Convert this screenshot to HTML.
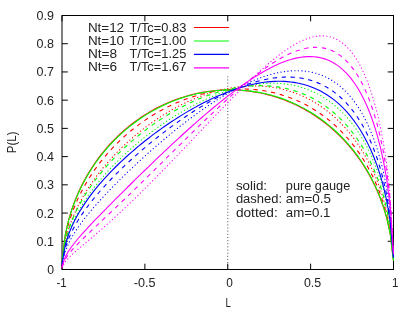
<!DOCTYPE html>
<html><head><meta charset="utf-8"><title>P(L)</title>
<style>
html,body{margin:0;padding:0;background:#fff;}
svg{display:block;will-change:transform;}
text{font-family:"Liberation Sans",sans-serif;font-size:12.2px;fill:#222;}
</style></head><body>
<svg width="415" height="312" viewBox="0 0 415 312">
<rect width="415" height="312" fill="#fff"/>
<line x1="227.75" y1="269.5" x2="227.75" y2="74.8" stroke="#555" stroke-width="1" stroke-dasharray="1.05 2.1"/>
<rect x="62.0" y="15.5" width="331.5" height="254.0" fill="none" stroke="#000" stroke-width="1.0"/>
<line x1="62.0" y1="269.50" x2="67.8" y2="269.50" stroke="#000" stroke-width="1.0"/>
<line x1="393.5" y1="269.50" x2="387.7" y2="269.50" stroke="#000" stroke-width="1.0"/>
<text x="47.2" y="274.0" text-anchor="start" textLength="6.8" lengthAdjust="spacingAndGlyphs">0</text>
<line x1="62.0" y1="241.28" x2="67.8" y2="241.28" stroke="#000" stroke-width="1.0"/>
<line x1="393.5" y1="241.28" x2="387.7" y2="241.28" stroke="#000" stroke-width="1.0"/>
<text x="36.6" y="245.78" text-anchor="start" textLength="17.4" lengthAdjust="spacingAndGlyphs">0.1</text>
<line x1="62.0" y1="213.06" x2="67.8" y2="213.06" stroke="#000" stroke-width="1.0"/>
<line x1="393.5" y1="213.06" x2="387.7" y2="213.06" stroke="#000" stroke-width="1.0"/>
<text x="36.6" y="217.56" text-anchor="start" textLength="17.4" lengthAdjust="spacingAndGlyphs">0.2</text>
<line x1="62.0" y1="184.83" x2="67.8" y2="184.83" stroke="#000" stroke-width="1.0"/>
<line x1="393.5" y1="184.83" x2="387.7" y2="184.83" stroke="#000" stroke-width="1.0"/>
<text x="36.6" y="189.33" text-anchor="start" textLength="17.4" lengthAdjust="spacingAndGlyphs">0.3</text>
<line x1="62.0" y1="156.61" x2="67.8" y2="156.61" stroke="#000" stroke-width="1.0"/>
<line x1="393.5" y1="156.61" x2="387.7" y2="156.61" stroke="#000" stroke-width="1.0"/>
<text x="36.6" y="161.11" text-anchor="start" textLength="17.4" lengthAdjust="spacingAndGlyphs">0.4</text>
<line x1="62.0" y1="128.39" x2="67.8" y2="128.39" stroke="#000" stroke-width="1.0"/>
<line x1="393.5" y1="128.39" x2="387.7" y2="128.39" stroke="#000" stroke-width="1.0"/>
<text x="36.6" y="132.89" text-anchor="start" textLength="17.4" lengthAdjust="spacingAndGlyphs">0.5</text>
<line x1="62.0" y1="100.17" x2="67.8" y2="100.17" stroke="#000" stroke-width="1.0"/>
<line x1="393.5" y1="100.17" x2="387.7" y2="100.17" stroke="#000" stroke-width="1.0"/>
<text x="36.6" y="104.67" text-anchor="start" textLength="17.4" lengthAdjust="spacingAndGlyphs">0.6</text>
<line x1="62.0" y1="71.94" x2="67.8" y2="71.94" stroke="#000" stroke-width="1.0"/>
<line x1="393.5" y1="71.94" x2="387.7" y2="71.94" stroke="#000" stroke-width="1.0"/>
<text x="36.6" y="76.44" text-anchor="start" textLength="17.4" lengthAdjust="spacingAndGlyphs">0.7</text>
<line x1="62.0" y1="43.72" x2="67.8" y2="43.72" stroke="#000" stroke-width="1.0"/>
<line x1="393.5" y1="43.72" x2="387.7" y2="43.72" stroke="#000" stroke-width="1.0"/>
<text x="36.6" y="48.22" text-anchor="start" textLength="17.4" lengthAdjust="spacingAndGlyphs">0.8</text>
<line x1="62.0" y1="15.50" x2="67.8" y2="15.50" stroke="#000" stroke-width="1.0"/>
<line x1="393.5" y1="15.50" x2="387.7" y2="15.50" stroke="#000" stroke-width="1.0"/>
<text x="36.6" y="20.0" text-anchor="start" textLength="17.4" lengthAdjust="spacingAndGlyphs">0.9</text>
<line x1="62.00" y1="269.5" x2="62.00" y2="263.7" stroke="#000" stroke-width="1.0"/>
<line x1="62.00" y1="15.5" x2="62.00" y2="21.3" stroke="#000" stroke-width="1.0"/>
<text x="56.4" y="286.8" text-anchor="start" textLength="10.2" lengthAdjust="spacingAndGlyphs">-1</text>
<line x1="144.88" y1="269.5" x2="144.88" y2="263.7" stroke="#000" stroke-width="1.0"/>
<line x1="144.88" y1="15.5" x2="144.88" y2="21.3" stroke="#000" stroke-width="1.0"/>
<text x="133.7" y="286.8" text-anchor="start" textLength="21.8" lengthAdjust="spacingAndGlyphs">-0.5</text>
<line x1="227.75" y1="269.5" x2="227.75" y2="263.7" stroke="#000" stroke-width="1.0"/>
<line x1="227.75" y1="15.5" x2="227.75" y2="21.3" stroke="#000" stroke-width="1.0"/>
<text x="226.3" y="286.8" text-anchor="start" textLength="6.6" lengthAdjust="spacingAndGlyphs">0</text>
<line x1="310.62" y1="269.5" x2="310.62" y2="263.7" stroke="#000" stroke-width="1.0"/>
<line x1="310.62" y1="15.5" x2="310.62" y2="21.3" stroke="#000" stroke-width="1.0"/>
<text x="303.9" y="286.8" text-anchor="start" textLength="17.3" lengthAdjust="spacingAndGlyphs">0.5</text>
<line x1="393.50" y1="269.5" x2="393.50" y2="263.7" stroke="#000" stroke-width="1.0"/>
<line x1="393.50" y1="15.5" x2="393.50" y2="21.3" stroke="#000" stroke-width="1.0"/>
<text x="392.0" y="286.8" text-anchor="start" textLength="6.4" lengthAdjust="spacingAndGlyphs">1</text>
<polyline points="62.00,261.14 65.31,234.54 68.63,219.89 71.95,208.94 75.26,199.89 78.57,192.04 81.89,185.07 85.20,178.77 88.52,173.00 91.83,167.68 95.15,162.74 98.47,158.13 101.78,153.81 105.09,149.75 108.41,145.92 111.73,142.30 115.04,138.88 118.36,135.63 121.67,132.55 124.98,129.63 128.30,126.85 131.62,124.22 134.93,121.71 138.25,119.33 141.56,117.06 144.88,114.91 148.19,112.87 151.50,110.93 154.82,109.10 158.13,107.36 161.45,105.72 164.76,104.16 168.08,102.70 171.40,101.33 174.71,100.04 178.03,98.83 181.34,97.70 184.66,96.66 187.97,95.69 191.28,94.81 194.60,93.99 197.92,93.26 201.23,92.60 204.54,92.01 207.86,91.49 211.18,91.05 214.49,90.68 217.81,90.39 221.12,90.16 224.44,90.01 227.75,89.92 231.06,89.91 234.38,89.97 237.70,90.11 241.01,90.31 244.33,90.59 247.64,90.94 250.96,91.36 254.27,91.86 257.58,92.43 260.90,93.08 264.22,93.81 267.53,94.61 270.85,95.49 274.16,96.46 277.48,97.50 280.79,98.63 284.11,99.84 287.42,101.14 290.74,102.53 294.05,104.01 297.37,105.59 300.68,107.26 304.00,109.04 307.31,110.92 310.62,112.90 313.94,115.00 317.25,117.22 320.57,119.56 323.88,122.02 327.20,124.63 330.52,127.37 333.83,130.27 337.15,133.33 340.46,136.56 343.77,139.98 347.09,143.60 350.40,147.44 353.72,151.52 357.04,155.87 360.35,160.51 363.67,165.50 366.98,170.89 370.30,176.73 373.61,183.13 376.93,190.22 380.24,198.21 383.56,207.46 386.87,218.64 390.19,233.65 393.50,260.92" fill="none" stroke="#ff0000" stroke-width="1.1"/>
<polyline points="62.00,261.78 65.31,237.16 68.63,223.52 71.95,213.27 75.26,204.75 78.57,197.32 81.89,190.68 85.20,184.64 88.52,179.08 91.83,173.93 95.15,169.11 98.47,164.59 101.78,160.33 105.09,156.30 108.41,152.47 111.73,148.84 115.04,145.37 118.36,142.07 121.67,138.92 124.98,135.91 128.30,133.02 131.62,130.27 134.93,127.63 138.25,125.10 141.56,122.68 144.88,120.37 148.19,118.15 151.50,116.03 154.82,114.00 158.13,112.06 161.45,110.21 164.76,108.45 168.08,106.77 171.40,105.17 174.71,103.65 178.03,102.21 181.34,100.85 184.66,99.56 187.97,98.35 191.28,97.22 194.60,96.16 197.92,95.17 201.23,94.26 204.54,93.42 207.86,92.65 211.18,91.95 214.49,91.33 217.81,90.77 221.12,90.29 224.44,89.89 227.75,89.55 231.06,89.29 234.38,89.10 237.70,88.98 241.01,88.94 244.33,88.98 247.64,89.09 250.96,89.27 254.27,89.54 257.58,89.88 260.90,90.30 264.22,90.81 267.53,91.39 270.85,92.06 274.16,92.82 277.48,93.66 280.79,94.60 284.11,95.62 287.42,96.74 290.74,97.95 294.05,99.27 297.37,100.69 300.68,102.21 304.00,103.84 307.31,105.59 310.62,107.45 313.94,109.43 317.25,111.55 320.57,113.79 323.88,116.18 327.20,118.72 330.52,121.41 333.83,124.27 337.15,127.30 340.46,130.53 343.77,133.95 347.09,137.60 350.40,141.49 353.72,145.64 357.04,150.08 360.35,154.84 363.67,159.98 366.98,165.54 370.30,171.61 373.61,178.27 376.93,185.68 380.24,194.05 383.56,203.77 386.87,215.57 390.19,231.45 393.50,260.39" fill="none" stroke="#ff0000" stroke-width="1.1" stroke-dasharray="4.3 4.6"/>
<polyline points="62.00,262.68 65.31,240.86 68.63,228.65 71.95,219.38 75.26,211.60 78.57,204.75 81.89,198.57 85.20,192.89 88.52,187.62 91.83,182.69 95.15,178.04 98.47,173.63 101.78,169.43 105.09,165.43 108.41,161.59 111.73,157.92 115.04,154.38 118.36,150.98 121.67,147.71 124.98,144.55 128.30,141.50 131.62,138.56 134.93,135.71 138.25,132.96 141.56,130.31 144.88,127.74 148.19,125.26 151.50,122.86 154.82,120.54 158.13,118.31 161.45,116.15 164.76,114.07 168.08,112.07 171.40,110.14 174.71,108.28 178.03,106.50 181.34,104.80 184.66,103.16 187.97,101.60 191.28,100.11 194.60,98.69 197.92,97.34 201.23,96.07 204.54,94.87 207.86,93.74 211.18,92.68 214.49,91.70 217.81,90.79 221.12,89.95 224.44,89.20 227.75,88.51 231.06,87.91 234.38,87.38 237.70,86.93 241.01,86.56 244.33,86.26 247.64,86.06 250.96,85.93 254.27,85.89 257.58,85.93 260.90,86.07 264.22,86.29 267.53,86.60 270.85,87.01 274.16,87.51 277.48,88.11 280.79,88.81 284.11,89.61 287.42,90.51 290.74,91.53 294.05,92.65 297.37,93.89 300.68,95.25 304.00,96.73 307.31,98.34 310.62,100.08 313.94,101.96 317.25,103.98 320.57,106.16 323.88,108.48 327.20,110.98 330.52,113.65 333.83,116.50 337.15,119.55 340.46,122.81 343.77,126.30 347.09,130.02 350.40,134.02 353.72,138.30 357.04,142.90 360.35,147.86 363.67,153.22 366.98,159.05 370.30,165.42 373.61,172.44 376.93,180.26 380.24,189.13 383.56,199.44 386.87,211.98 390.19,228.90 393.50,259.77" fill="none" stroke="#ff0000" stroke-width="1.15" stroke-dasharray="0.2 3.3" stroke-linecap="round"/>
<polyline points="62.00,261.21 65.31,234.85 68.63,220.32 71.95,209.46 75.26,200.47 78.57,192.67 81.89,185.74 85.20,179.47 88.52,173.73 91.83,168.44 95.15,163.51 98.47,158.92 101.78,154.60 105.09,150.55 108.41,146.72 111.73,143.10 115.04,139.68 118.36,136.43 121.67,133.34 124.98,130.41 128.30,127.63 131.62,124.98 134.93,122.46 138.25,120.06 141.56,117.78 144.88,115.61 148.19,113.55 151.50,111.60 154.82,109.74 158.13,107.98 161.45,106.31 164.76,104.73 168.08,103.25 171.40,101.85 174.71,100.53 178.03,99.30 181.34,98.14 184.66,97.07 187.97,96.08 191.28,95.16 194.60,94.32 197.92,93.55 201.23,92.86 204.54,92.24 207.86,91.69 211.18,91.22 214.49,90.82 217.81,90.49 221.12,90.23 224.44,90.05 227.75,89.93 231.06,89.89 234.38,89.92 237.70,90.02 241.01,90.19 244.33,90.44 247.64,90.75 250.96,91.15 254.27,91.61 257.58,92.15 260.90,92.77 264.22,93.47 267.53,94.24 270.85,95.09 274.16,96.03 277.48,97.04 280.79,98.14 284.11,99.33 287.42,100.60 290.74,101.97 294.05,103.42 297.37,104.98 300.68,106.63 304.00,108.38 307.31,110.24 310.62,112.20 313.94,114.28 317.25,116.48 320.57,118.80 323.88,121.26 327.20,123.85 330.52,126.58 333.83,129.47 337.15,132.52 340.46,135.75 343.77,139.16 347.09,142.78 350.40,146.63 353.72,150.71 357.04,155.07 360.35,159.73 363.67,164.74 366.98,170.14 370.30,176.01 373.61,182.45 376.93,189.58 380.24,197.62 383.56,206.93 386.87,218.20 390.19,233.33 393.50,260.85" fill="none" stroke="#00ff00" stroke-width="1.1"/>
<polyline points="62.00,262.85 65.31,241.60 68.63,229.70 71.95,220.67 75.26,213.08 78.57,206.39 81.89,200.36 85.20,194.82 88.52,189.66 91.83,184.84 95.15,180.28 98.47,175.96 101.78,171.84 105.09,167.91 108.41,164.14 111.73,160.52 115.04,157.04 118.36,153.68 121.67,150.44 124.98,147.31 128.30,144.29 131.62,141.36 134.93,138.53 138.25,135.79 141.56,133.14 144.88,130.56 148.19,128.07 151.50,125.66 154.82,123.32 158.13,121.06 161.45,118.87 164.76,116.76 168.08,114.71 171.40,112.74 174.71,110.83 178.03,108.99 181.34,107.22 184.66,105.52 187.97,103.88 191.28,102.31 194.60,100.81 197.92,99.38 201.23,98.01 204.54,96.71 207.86,95.48 211.18,94.32 214.49,93.23 217.81,92.21 221.12,91.25 224.44,90.37 227.75,89.56 231.06,88.82 234.38,88.16 237.70,87.57 241.01,87.06 244.33,86.63 247.64,86.27 250.96,86.00 254.27,85.80 257.58,85.69 260.90,85.67 264.22,85.73 267.53,85.88 270.85,86.12 274.16,86.46 277.48,86.90 280.79,87.43 284.11,88.06 287.42,88.80 290.74,89.65 294.05,90.61 297.37,91.69 300.68,92.89 304.00,94.21 307.31,95.66 310.62,97.25 313.94,98.98 317.25,100.85 320.57,102.88 323.88,105.08 327.20,107.44 330.52,109.99 333.83,112.73 337.15,115.68 340.46,118.85 343.77,122.25 347.09,125.92 350.40,129.86 353.72,134.11 357.04,138.69 360.35,143.66 363.67,149.06 366.98,154.95 370.30,161.41 373.61,168.57 376.93,176.59 380.24,185.71 383.56,196.36 386.87,209.38 390.19,227.00 393.50,259.31" fill="none" stroke="#00ff00" stroke-width="1.1" stroke-dasharray="4.3 4.6"/>
<polyline points="62.00,263.38 65.31,243.77 68.63,232.75 71.95,224.36 75.26,217.28 78.57,211.02 81.89,205.34 85.20,200.11 88.52,195.23 91.83,190.63 95.15,186.28 98.47,182.13 101.78,178.16 105.09,174.35 108.41,170.68 111.73,167.14 115.04,163.72 118.36,160.41 121.67,157.20 124.98,154.08 128.30,151.05 131.62,148.10 134.93,145.24 138.25,142.45 141.56,139.73 144.88,137.08 148.19,134.50 151.50,131.98 154.82,129.53 158.13,127.14 161.45,124.82 164.76,122.55 168.08,120.35 171.40,118.20 174.71,116.11 178.03,114.08 181.34,112.11 184.66,110.20 187.97,108.35 191.28,106.55 194.60,104.81 197.92,103.14 201.23,101.52 204.54,99.96 207.86,98.47 211.18,97.03 214.49,95.66 217.81,94.35 221.12,93.11 224.44,91.93 227.75,90.82 231.06,89.78 234.38,88.80 237.70,87.90 241.01,87.07 244.33,86.32 247.64,85.64 250.96,85.04 254.27,84.52 257.58,84.08 260.90,83.72 264.22,83.46 267.53,83.28 270.85,83.20 274.16,83.21 277.48,83.32 280.79,83.53 284.11,83.85 287.42,84.27 290.74,84.81 294.05,85.47 297.37,86.25 300.68,87.16 304.00,88.20 307.31,89.38 310.62,90.70 313.94,92.18 317.25,93.81 320.57,95.62 323.88,97.60 327.20,99.77 330.52,102.14 333.83,104.72 337.15,107.53 340.46,110.59 343.77,113.90 347.09,117.50 350.40,121.41 353.72,125.66 357.04,130.29 360.35,135.34 363.67,140.87 366.98,146.94 370.30,153.66 373.61,161.14 376.93,169.57 380.24,179.23 383.56,190.57 386.87,204.50 390.19,223.48 393.50,258.45" fill="none" stroke="#00ff00" stroke-width="1.15" stroke-dasharray="0.2 3.3" stroke-linecap="round"/>
<polyline points="62.00,263.62 65.31,244.81 68.63,234.23 71.95,226.16 75.26,219.35 78.57,213.33 81.89,207.87 85.20,202.83 88.52,198.11 91.83,193.67 95.15,189.46 98.47,185.43 101.78,181.58 105.09,177.87 108.41,174.30 111.73,170.84 115.04,167.49 118.36,164.24 121.67,161.08 124.98,158.00 128.30,155.00 131.62,152.08 134.93,149.22 138.25,146.44 141.56,143.71 144.88,141.05 148.19,138.45 151.50,135.90 154.82,133.41 158.13,130.98 161.45,128.60 164.76,126.27 168.08,123.99 171.40,121.76 174.71,119.59 178.03,117.47 181.34,115.39 184.66,113.37 187.97,111.40 191.28,109.48 194.60,107.61 197.92,105.80 201.23,104.04 204.54,102.33 207.86,100.68 211.18,99.08 214.49,97.54 217.81,96.06 221.12,94.64 224.44,93.28 227.75,91.98 231.06,90.74 234.38,89.57 237.70,88.47 241.01,87.43 244.33,86.47 247.64,85.58 250.96,84.77 254.27,84.03 257.58,83.38 260.90,82.80 264.22,82.32 267.53,81.92 270.85,81.62 274.16,81.41 277.48,81.30 280.79,81.29 284.11,81.40 287.42,81.61 290.74,81.94 294.05,82.39 297.37,82.96 300.68,83.67 304.00,84.52 307.31,85.51 310.62,86.65 313.94,87.96 317.25,89.43 320.57,91.08 323.88,92.92 327.20,94.95 330.52,97.20 333.83,99.67 337.15,102.39 340.46,105.36 343.77,108.62 347.09,112.17 350.40,116.06 353.72,120.31 357.04,124.97 360.35,130.07 363.67,135.68 366.98,141.88 370.30,148.75 373.61,156.45 376.93,165.15 380.24,175.14 383.56,186.93 386.87,201.44 390.19,221.27 393.50,257.91" fill="none" stroke="#0000ff" stroke-width="1.1"/>
<polyline points="62.00,264.37 65.31,247.88 68.63,238.49 71.95,231.24 75.26,225.05 78.57,219.51 81.89,214.43 85.20,209.70 88.52,205.23 91.83,200.98 95.15,196.91 98.47,192.99 101.78,189.21 105.09,185.54 108.41,181.97 111.73,178.50 115.04,175.11 118.36,171.80 121.67,168.57 124.98,165.40 128.30,162.29 131.62,159.24 134.93,156.25 138.25,153.31 141.56,150.42 144.88,147.59 148.19,144.80 151.50,142.07 154.82,139.38 158.13,136.74 161.45,134.14 164.76,131.59 168.08,129.09 171.40,126.63 174.71,124.22 178.03,121.85 181.34,119.53 184.66,117.26 187.97,115.04 191.28,112.86 194.60,110.74 197.92,108.66 201.23,106.63 204.54,104.66 207.86,102.74 211.18,100.87 214.49,99.06 217.81,97.30 221.12,95.61 224.44,93.97 227.75,92.39 231.06,90.88 234.38,89.43 237.70,88.05 241.01,86.74 244.33,85.49 247.64,84.33 250.96,83.23 254.27,82.22 257.58,81.28 260.90,80.43 264.22,79.67 267.53,78.99 270.85,78.41 274.16,77.93 277.48,77.55 280.79,77.27 284.11,77.10 287.42,77.04 290.74,77.11 294.05,77.29 297.37,77.61 300.68,78.06 304.00,78.66 307.31,79.40 310.62,80.31 313.94,81.38 317.25,82.62 320.57,84.05 323.88,85.68 327.20,87.52 330.52,89.58 333.83,91.88 337.15,94.43 340.46,97.26 343.77,100.40 347.09,103.85 350.40,107.67 353.72,111.87 357.04,116.52 360.35,121.65 363.67,127.34 366.98,133.66 370.30,140.73 373.61,148.70 376.93,157.77 380.24,168.27 383.56,180.72 386.87,196.18 390.19,217.43 393.50,256.97" fill="none" stroke="#0000ff" stroke-width="1.1" stroke-dasharray="4.3 4.6"/>
<polyline points="62.00,265.21 65.31,251.34 68.63,243.31 71.95,237.03 75.26,231.58 78.57,226.65 81.89,222.07 85.20,217.75 88.52,213.62 91.83,209.65 95.15,205.81 98.47,202.08 101.78,198.44 105.09,194.87 108.41,191.38 111.73,187.95 115.04,184.58 118.36,181.25 121.67,177.97 124.98,174.74 128.30,171.55 131.62,168.40 134.93,165.28 138.25,162.21 141.56,159.16 144.88,156.16 148.19,153.18 151.50,150.24 154.82,147.34 158.13,144.47 161.45,141.63 164.76,138.83 168.08,136.07 171.40,133.34 174.71,130.64 178.03,127.99 181.34,125.37 184.66,122.79 187.97,120.26 191.28,117.76 194.60,115.31 197.92,112.90 201.23,110.53 204.54,108.21 207.86,105.94 211.18,103.72 214.49,101.55 217.81,99.43 221.12,97.37 224.44,95.37 227.75,93.42 231.06,91.53 234.38,89.70 237.70,87.94 241.01,86.25 244.33,84.62 247.64,83.07 250.96,81.59 254.27,80.19 257.58,78.87 260.90,77.64 264.22,76.49 267.53,75.43 270.85,74.46 274.16,73.60 277.48,72.83 280.79,72.18 284.11,71.63 287.42,71.21 290.74,70.90 294.05,70.73 297.37,70.68 300.68,70.78 304.00,71.03 307.31,71.44 310.62,72.01 313.94,72.76 317.25,73.69 320.57,74.83 323.88,76.17 327.20,77.74 330.52,79.54 333.83,81.61 337.15,83.95 340.46,86.59 343.77,89.56 347.09,92.89 350.40,96.61 353.72,100.76 357.04,105.39 360.35,110.56 363.67,116.35 366.98,122.85 370.30,130.19 373.61,138.52 376.93,148.09 380.24,159.24 383.56,172.59 386.87,189.27 390.19,212.39 393.50,255.73" fill="none" stroke="#0000ff" stroke-width="1.15" stroke-dasharray="0.2 3.3" stroke-linecap="round"/>
<polyline points="62.00,266.54 65.31,256.84 68.63,250.99 71.95,246.24 75.26,241.98 78.57,238.01 81.89,234.21 85.20,230.55 88.52,226.96 91.83,223.45 95.15,219.98 98.47,216.54 101.78,213.14 105.09,209.76 108.41,206.40 111.73,203.05 115.04,199.72 118.36,196.40 121.67,193.10 124.98,189.80 128.30,186.51 131.62,183.24 134.93,179.97 138.25,176.72 141.56,173.48 144.88,170.25 148.19,167.03 151.50,163.83 154.82,160.64 158.13,157.47 161.45,154.31 164.76,151.17 168.08,148.05 171.40,144.94 174.71,141.86 178.03,138.79 181.34,135.75 184.66,132.73 187.97,129.73 191.28,126.76 194.60,123.82 197.92,120.90 201.23,118.01 204.54,115.15 207.86,112.33 211.18,109.53 214.49,106.78 217.81,104.05 221.12,101.37 224.44,98.73 227.75,96.14 231.06,93.59 234.38,91.08 237.70,88.63 241.01,86.24 244.33,83.90 247.64,81.62 250.96,79.40 254.27,77.26 257.58,75.18 260.90,73.18 264.22,71.27 267.53,69.44 270.85,67.70 274.16,66.06 277.48,64.52 280.79,63.09 284.11,61.79 287.42,60.60 290.74,59.55 294.05,58.64 297.37,57.88 300.68,57.29 304.00,56.86 307.31,56.62 310.62,56.58 313.94,56.74 317.25,57.13 320.57,57.76 323.88,58.65 327.20,59.81 330.52,61.26 333.83,63.04 337.15,65.16 340.46,67.66 343.77,70.55 347.09,73.89 350.40,77.71 353.72,82.05 357.04,86.98 360.35,92.57 363.67,98.89 366.98,106.05 370.30,114.18 373.61,123.47 376.93,134.18 380.24,146.68 383.56,161.64 386.87,180.31 390.19,206.11 393.50,254.24" fill="none" stroke="#ff00ff" stroke-width="1.1"/>
<polyline points="62.00,267.06 65.31,259.04 68.63,254.15 71.95,250.13 75.26,246.49 78.57,243.06 81.89,239.76 85.20,236.53 88.52,233.35 91.83,230.20 95.15,227.07 98.47,223.95 101.78,220.83 105.09,217.70 108.41,214.57 111.73,211.43 115.04,208.28 118.36,205.11 121.67,201.94 124.98,198.75 128.30,195.55 131.62,192.34 134.93,189.12 138.25,185.88 141.56,182.64 144.88,179.39 148.19,176.13 151.50,172.86 154.82,169.59 158.13,166.31 161.45,163.03 164.76,159.74 168.08,156.46 171.40,153.17 174.71,149.89 178.03,146.60 181.34,143.33 184.66,140.06 187.97,136.79 191.28,133.54 194.60,130.30 197.92,127.07 201.23,123.85 204.54,120.65 207.86,117.47 211.18,114.31 214.49,111.17 217.81,108.06 221.12,104.98 224.44,101.93 227.75,98.91 231.06,95.93 234.38,92.98 237.70,90.08 241.01,87.23 244.33,84.43 247.64,81.68 250.96,78.99 254.27,76.36 257.58,73.81 260.90,71.32 264.22,68.92 267.53,66.59 270.85,64.36 274.16,62.23 277.48,60.20 280.79,58.28 284.11,56.48 287.42,54.82 290.74,53.28 294.05,51.90 297.37,50.67 300.68,49.62 304.00,48.74 307.31,48.06 310.62,47.59 313.94,47.34 317.25,47.32 320.57,47.57 323.88,48.09 327.20,48.91 330.52,50.05 333.83,51.53 337.15,53.39 340.46,55.66 343.77,58.36 347.09,61.54 350.40,65.25 353.72,69.54 357.04,74.47 360.35,80.12 363.67,86.57 366.98,93.96 370.30,102.41 373.61,112.14 376.93,123.43 380.24,136.71 383.56,152.69 386.87,172.75 390.19,200.62 393.50,252.90" fill="none" stroke="#ff00ff" stroke-width="1.1" stroke-dasharray="4.3 4.6"/>
<polyline points="62.00,267.69 65.31,261.68 68.63,257.89 71.95,254.68 75.26,251.71 78.57,248.84 81.89,246.03 85.20,243.23 88.52,240.44 91.83,237.63 95.15,234.80 98.47,231.94 101.78,229.05 105.09,226.13 108.41,223.18 111.73,220.19 115.04,217.17 118.36,214.12 121.67,211.03 124.98,207.91 128.30,204.76 131.62,201.58 134.93,198.37 138.25,195.14 141.56,191.88 144.88,188.59 148.19,185.28 151.50,181.95 154.82,178.60 158.13,175.24 161.45,171.85 164.76,168.45 168.08,165.03 171.40,161.60 174.71,158.16 178.03,154.71 181.34,151.24 184.66,147.78 187.97,144.30 191.28,140.82 194.60,137.34 197.92,133.86 201.23,130.37 204.54,126.89 207.86,123.41 211.18,119.94 214.49,116.48 217.81,113.02 221.12,109.58 224.44,106.15 227.75,102.74 231.06,99.35 234.38,95.99 237.70,92.65 241.01,89.34 244.33,86.07 247.64,82.83 250.96,79.64 254.27,76.49 257.58,73.40 260.90,70.37 264.22,67.40 267.53,64.50 270.85,61.68 274.16,58.95 277.48,56.32 280.79,53.79 284.11,51.37 287.42,49.08 290.74,46.92 294.05,44.91 297.37,43.05 300.68,41.38 304.00,39.89 307.31,38.60 310.62,37.54 313.94,36.72 317.25,36.16 320.57,35.88 323.88,35.90 327.20,36.26 330.52,36.98 333.83,38.08 337.15,39.61 340.46,41.60 343.77,44.08 347.09,47.12 350.40,50.75 353.72,55.05 357.04,60.07 360.35,65.90 363.67,72.65 366.98,80.44 370.30,89.43 373.61,99.84 376.93,111.97 380.24,126.28 383.56,143.52 386.87,165.19 390.19,195.28 393.50,251.62" fill="none" stroke="#ff00ff" stroke-width="1.15" stroke-dasharray="0.2 3.3" stroke-linecap="round"/>
<text x="225.6" y="307.1" text-anchor="start" textLength="5.4" lengthAdjust="spacingAndGlyphs">L</text>
<text transform="translate(15.6,153.3) rotate(-90)" textLength="21.8" lengthAdjust="spacingAndGlyphs">P(L)</text>
<text x="87.9" y="31.7" text-anchor="start" textLength="36.2" lengthAdjust="spacingAndGlyphs">Nt=12</text>
<text x="129.5" y="31.7" text-anchor="start" textLength="56.8" lengthAdjust="spacingAndGlyphs">T/Tc=0.83</text>
<line x1="193.9" y1="27.50" x2="229.0" y2="27.50" stroke="#ff0000" stroke-width="1.1"/>
<text x="87.9" y="44.95" text-anchor="start" textLength="36.2" lengthAdjust="spacingAndGlyphs">Nt=10</text>
<text x="129.5" y="44.95" text-anchor="start" textLength="56.8" lengthAdjust="spacingAndGlyphs">T/Tc=1.00</text>
<line x1="193.9" y1="40.95" x2="229.0" y2="40.95" stroke="#00ff00" stroke-width="1.1"/>
<text x="87.9" y="58.2" text-anchor="start" textLength="29.2" lengthAdjust="spacingAndGlyphs">Nt=8</text>
<text x="129.5" y="58.2" text-anchor="start" textLength="56.8" lengthAdjust="spacingAndGlyphs">T/Tc=1.25</text>
<line x1="193.9" y1="54.40" x2="229.0" y2="54.40" stroke="#0000ff" stroke-width="1.1"/>
<text x="87.9" y="71.45" text-anchor="start" textLength="29.2" lengthAdjust="spacingAndGlyphs">Nt=6</text>
<text x="129.5" y="71.45" text-anchor="start" textLength="56.8" lengthAdjust="spacingAndGlyphs">T/Tc=1.67</text>
<line x1="193.9" y1="67.85" x2="229.0" y2="67.85" stroke="#ff00ff" stroke-width="1.1"/>
<text x="235.9" y="189.5" text-anchor="start" textLength="31.2" lengthAdjust="spacingAndGlyphs">solid:</text>
<text x="285.8" y="189.5" text-anchor="start" textLength="64.5" lengthAdjust="spacingAndGlyphs">pure gauge</text>
<text x="235.9" y="203.2" text-anchor="start" textLength="46.2" lengthAdjust="spacingAndGlyphs">dashed:</text>
<text x="285.8" y="203.2" text-anchor="start" textLength="45.3" lengthAdjust="spacingAndGlyphs">am=0.5</text>
<text x="235.9" y="217.0" text-anchor="start" textLength="41.8" lengthAdjust="spacingAndGlyphs">dotted:</text>
<text x="285.8" y="217.0" text-anchor="start" textLength="44.7" lengthAdjust="spacingAndGlyphs">am=0.1</text>
</svg>
</body></html>
